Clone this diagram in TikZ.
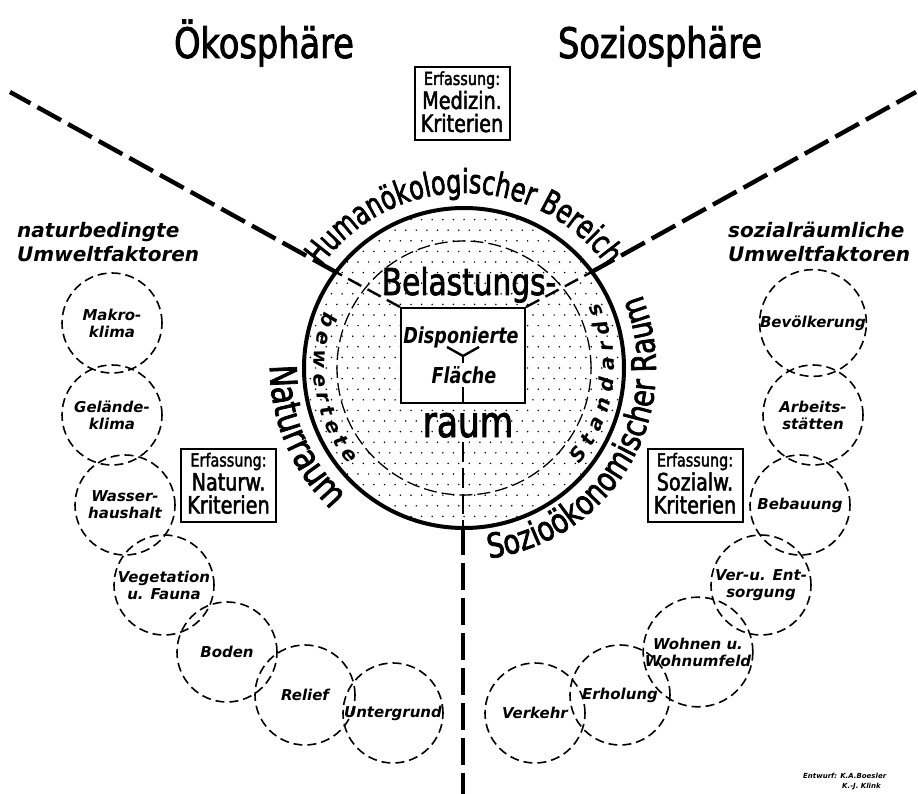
\documentclass[tikz,border=0pt]{standalone}
\usepackage{fontspec}
\setmainfont{DejaVu Sans}[FakeStretch=0.8]
\newfontfamily\sfb{DejaVu Sans}[FakeStretch=0.8, FakeBold=2]
\newfontfamily\ringf{DejaVu Sans}[FakeStretch=0.72, FakeBold=2]
\newfontfamily\labf{DejaVu Sans}[FakeStretch=1.0]
\usetikzlibrary{decorations.text,calc}
\begin{document}
\begin{tikzpicture}[x=1pt,y=-1pt,
  fc/.style={draw, dash pattern=on 9pt off 5pt, line width=1.6pt, circle, minimum size=100pt, inner sep=0pt, align=center, font=\labf\bfseries\itshape\fontsize{15}{17}\selectfont},
  bigdash/.style={line width=4.4pt, dash pattern=on 27pt off 8pt},
  middash/.style={line width=2.4pt, dash pattern=on 15pt off 7pt},
  ebox/.style={draw, line width=2pt, minimum width=95pt, minimum height=73pt, inner sep=0pt},
  eline/.style={anchor=base, inner sep=0pt},
  lab/.style={font=\labf\bfseries\itshape\fontsize{20}{24}\selectfont, align=left, anchor=north west, inner sep=0pt}
]
\fill[white] (0,0) rectangle (918,794);
\useasboundingbox (0,0) rectangle (918,794);
\coordinate (C) at (464,368);

% titles
\node[anchor=base, font=\sfb\fontsize{42}{42}\selectfont] (t1) at (264,58) {Ökosphäre};
\node[anchor=base, font=\sfb\fontsize{42}{42}\selectfont] (t2) at (660,58) {Soziosphäre};

% stipple
\begin{scope}
\clip (C) circle[radius=158pt];
\foreach \i in {-16,...,16}{\foreach \j in {-8,...,8}{
  \fill ({464+\i*10.6},{368+\j*21.2}) circle[radius=0.85pt];
  \fill ({464+\i*10.6+5.3},{368+\j*21.2+10.6}) circle[radius=0.85pt];
}}
\end{scope}
% circles
\draw[line width=1.3pt, dash pattern=on 13pt off 5pt] (C) circle[radius=127pt];
\draw[line width=4pt] (C) circle[radius=160pt];

% center box
\node[draw, fill=white, line width=2pt, minimum width=124pt, minimum height=95pt, inner sep=0pt] (box) at (463,355.5) {};
\coordinate (bl) at (box.north west);
\coordinate (br) at (box.north east);
\coordinate (lc) at (336.8,272.6);
\coordinate (rc) at (590.5,272.6);
\coordinate (le) at (10,92);
\coordinate (re) at (916,92);
\coordinate (bc) at (463,528);
\coordinate (be) at (463,794);
\coordinate (rm) at (463,442);
\draw[middash] (bl) -- (lc);
\draw[middash] (br) -- (rc);
\draw[bigdash] (lc) -- (le);
\draw[bigdash] (rc) -- (re);
\draw[line width=2.6pt, dash pattern=on 20pt off 6pt] (rm) -- (bc);
\draw[bigdash] (bc) -- (be);
% Y inside box
\coordinate (y0) at (463,356);
\draw[line width=2.4pt] (447,347) -- (y0) -- (479,347);
\draw[line width=2.4pt] (y0) -- (463,363);
\draw[line width=2.6pt] (463,387) -- (box.south);

% inner texts
\node[anchor=base, font=\sfb\fontsize{37}{37}\selectfont, inner sep=0pt] (bel) at (469,295) {Belastungs-};
\node[anchor=base, font=\sfb\fontsize{43}{43}\selectfont, inner sep=0pt] (raum) at (468,437) {raum};
\node[anchor=base, font=\bfseries\itshape\fontsize{22}{22}\selectfont, inner sep=0pt] (disp) at (461,343) {Disponierte};
\node[anchor=base, font=\bfseries\itshape\fontsize{22}{22}\selectfont, inner sep=0pt] (fl) at (464,383) {Fläche};

% ring texts
\path[decorate, decoration={text along path, text align=center, text={|\ringf\fontsize{33}{33}\selectfont|Humanökologischer Bereich}}]
  ($(C)+(170:175pt)$) arc[start angle=170, end angle=10, radius=175pt];
\path[decorate, decoration={text along path, text align=center, text={|\sfb\fontsize{37}{37}\selectfont|Naturraum}}]
  ($(C)+(163:194pt)$) arc[start angle=163, end angle=243, radius=194pt];
\path[decorate, decoration={text along path, text align=center, text={|\sfb\fontsize{34}{34}\selectfont|Sozioökonomischer Raum}}]
  ($(C)+(-100:192pt)$) arc[start angle=-100, end angle=40, radius=192pt];
\path[decorate, decoration={text along path, text align=fit to path, text={|\labf\bfseries\itshape\fontsize{20}{20}\selectfont|bewertete}}]
  ($(C)+(158:150pt)$) arc[start angle=158, end angle=220, radius=150pt];
\path[decorate, decoration={text along path, text align=fit to path, text={|\labf\bfseries\itshape\fontsize{20}{20}\selectfont|Standards}}]
  ($(C)+(-40:150pt)$) arc[start angle=-40, end angle=26, radius=150pt];

% Erfassung boxes
\node[ebox] (mb) at (462,103.5) {};
\node[eline, font=\sfb\fontsize{18}{18}\selectfont] (mb1) at ($(mb.north)+(0,19)$) {Erfassung:};
\node[eline, font=\sfb\fontsize{24}{24}\selectfont] (mb2) at ($(mb.north)+(0,43)$) {Medizin.};
\node[eline, font=\sfb\fontsize{24}{24}\selectfont] (mb3) at ($(mb.north)+(0,66)$) {Kriterien};

\node[ebox] (nb) at (228.5,485) {};
\node[eline, font=\sfb\fontsize{18}{18}\selectfont] (nb1) at ($(nb.north)+(0,19)$) {Erfassung:};
\node[eline, font=\sfb\fontsize{24}{24}\selectfont] (nb2) at ($(nb.north)+(0,43)$) {Naturw.};
\node[eline, font=\sfb\fontsize{24}{24}\selectfont] (nb3) at ($(nb.north)+(0,66)$) {Kriterien};

\node[ebox] (sb) at (695,485) {};
\node[eline, font=\sfb\fontsize{18}{18}\selectfont] (sb1) at ($(sb.north)+(0,19)$) {Erfassung:};
\node[eline, font=\sfb\fontsize{24}{24}\selectfont] (sb2) at ($(sb.north)+(0,43)$) {Sozialw.};
\node[eline, font=\sfb\fontsize{24}{24}\selectfont] (sb3) at ($(sb.north)+(0,66)$) {Kriterien};

% side headings
\node[lab] (lh) at (17,222) {naturbedingte\\Umweltfaktoren};
\node[lab] (rh) at (728,222) {sozialräumliche\\Umweltfaktoren};

% left factor circles
\node[fc] (l1) at (112,323) {Makro-\\klima};
\node[fc] (l2) at (112,415) {Gelände-\\klima};
\node[fc] (l3) at (125,505) {Wasser-\\haushalt};
\node[fc] (l4) at (164,585) {Vegetation\\u. Fauna};
\node[fc] (l5) at (227,652) {Boden};
\node[fc] (l6) at (305,695) {Relief};
\node[fc] (l7) at (393,713) {Untergrund};
% right factor circles
\node[fc] (r1) at (813,323) {Bevölkerung};
\node[fc] (r2) at (813,415) {Arbeits-\\stätten};
\node[fc] (r3) at (800,505) {Bebauung};
\node[fc] (r4) at (761,585) {Ver-u. Ent-\\sorgung};
\node[fc] (r5) at (698,652) {Wohnen u.\\Wohnumfeld};
\node[fc] (r6) at (620,695) {Erholung};
\node[fc] (r7) at (535,713) {Verkehr};

% credit
\node[anchor=base west, inner sep=0pt, font=\labf\bfseries\itshape\fontsize{7}{8}\selectfont] (cr1) at (803,778) {Entwurf: K.A.Boesler};
\node[anchor=base west, inner sep=0pt, font=\labf\bfseries\itshape\fontsize{7}{8}\selectfont] (cr2) at (842,788) {K.-J. Klink};
\end{tikzpicture}
\end{document}
